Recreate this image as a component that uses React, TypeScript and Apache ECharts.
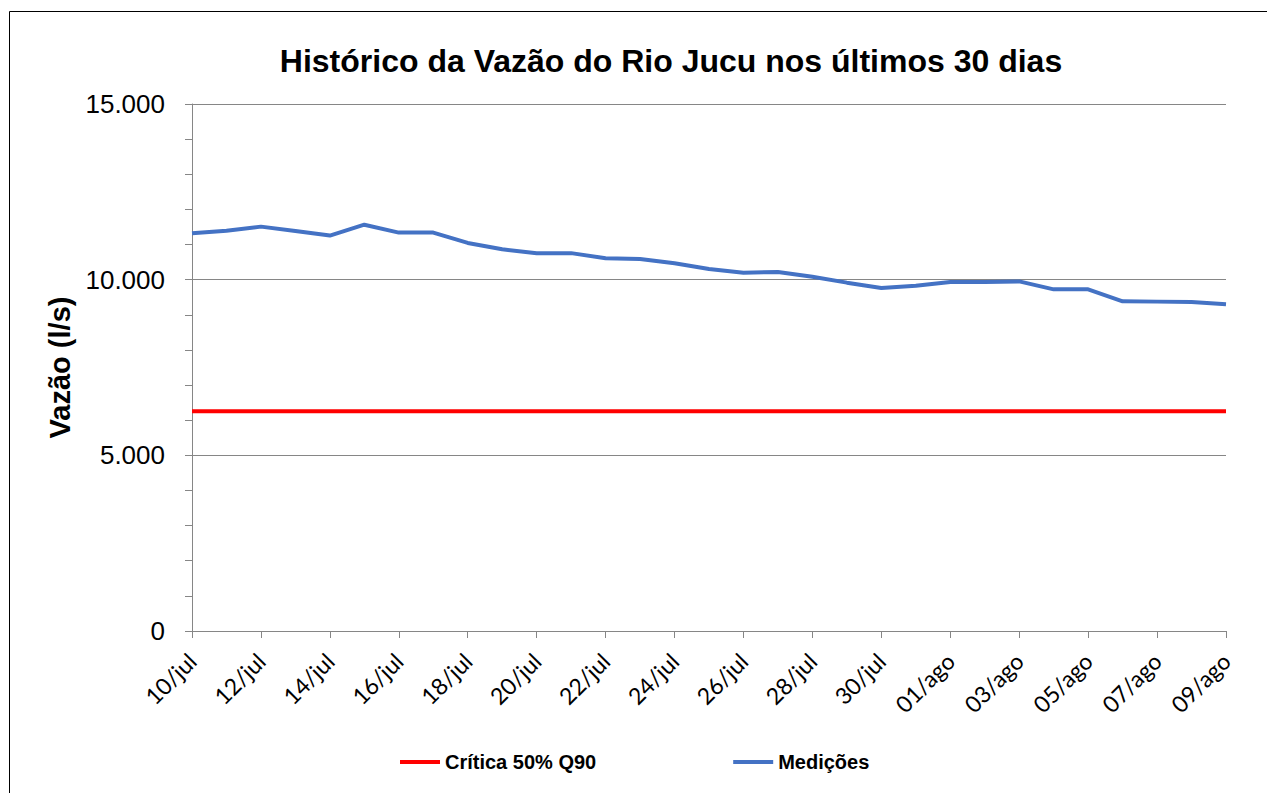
import React, { useEffect, useRef } from "react";
import * as echarts from "echarts";

const categories = [
  "10/jul", "11/jul", "12/jul", "13/jul", "14/jul", "15/jul", "16/jul", "17/jul",
  "18/jul", "19/jul", "20/jul", "21/jul", "22/jul", "23/jul", "24/jul", "25/jul",
  "26/jul", "27/jul", "28/jul", "29/jul", "30/jul", "31/jul", "01/ago", "02/ago",
  "03/ago", "04/ago", "05/ago", "06/ago", "07/ago", "08/ago", "09/ago",
];

const medicoes = [
  11320, 11395, 11510, 11385, 11255, 11565, 11340, 11340,
  11045, 10865, 10755, 10755, 10610, 10590, 10465, 10305,
  10200, 10220, 10085, 9915, 9765, 9830, 9935, 9935,
  9950, 9725, 9725, 9385, 9375, 9365, 9300,
];

const criticaValue = 6255;
const critica = categories.map(() => criticaValue);

const yTicks = [0, 5000, 10000, 15000];

const title = "Histórico da Vazão do Rio Jucu nos últimos 30 dias";

export default function App() {
  const ref = useRef<HTMLDivElement>(null);

  useEffect(() => {
    document.body.style.margin = "0";
    const chart = echarts.init(ref.current!, null, { renderer: "svg" });
    const axisGray = "#868686";
    chart.setOption({
      animation: false,
      backgroundColor: "#ffffff",
      title: {
        text: title,
        left: 666,
        top: 40,
        textAlign: "center",
        textStyle: {
          fontFamily: "Liberation Sans, Arial, sans-serif",
          fontWeight: "bold",
          fontSize: 32,
          color: "#000000",
        },
      },
      graphic: [
        {
          type: "rect",
          shape: { x: 9.5, y: 11.5, width: 1300, height: 800 },
          style: { fill: "none", stroke: "#000000", lineWidth: 1 },
          silent: true,
          z: -1,
        },
      ],
      legend: {
        left: 395,
        top: 747,
        itemWidth: 40,
        itemHeight: 4,
        itemGap: 137,
        icon: "rect",
        data: ["Crítica 50% Q90", "Medições"],
        textStyle: {
          fontFamily: "Liberation Sans, Arial, sans-serif",
          fontWeight: "bold",
          fontSize: 20,
          color: "#000000",
        },
      },
      grid: { left: 192, right: 41, top: 104, bottom: 162 },
      xAxis: {
        type: "category",
        data: categories,
        boundaryGap: false,
        axisLine: { lineStyle: { color: axisGray, width: 1 } },
        axisTick: { interval: 1, length: 7, lineStyle: { color: axisGray } },
        axisLabel: {
          interval: 1,
          rotate: 45,
          margin: 26,
          fontFamily: "Lato, Open Sans, sans-serif",
          fontSize: 23,
          color: "#000000",
        },
        splitLine: { show: false },
      },
      yAxis: {
        type: "value",
        min: yTicks[0],
        max: yTicks[yTicks.length - 1],
        interval: 5000,
        name: "Vazão (l/s)",
        nameLocation: "middle",
        nameGap: 114,
        nameTextStyle: {
          fontFamily: "Liberation Sans, Arial, sans-serif",
          fontWeight: "bold",
          fontSize: 29,
          color: "#000000",
        },
        axisLine: { show: true, lineStyle: { color: axisGray, width: 1 } },
        axisTick: { show: true, length: 7, lineStyle: { color: axisGray } },
        minorTick: { show: true, splitNumber: 5, length: 7, lineStyle: { color: axisGray } },
        axisLabel: {
          margin: 27,
          fontFamily: "Liberation Sans, Arial, sans-serif",
          fontSize: 26,
          color: "#000000",
          formatter: (v: number) => v.toLocaleString("de-DE"),
        },
        splitLine: { show: true, lineStyle: { color: axisGray, width: 1 } },
      },
      series: [
        {
          name: "Crítica 50% Q90",
          type: "line",
          data: critica,
          showSymbol: false,
          symbol: "none",
          lineStyle: { color: "#FF0000", width: 4 },
          itemStyle: { color: "#FF0000" },
        },
        {
          name: "Medições",
          type: "line",
          data: medicoes,
          showSymbol: false,
          symbol: "none",
          lineStyle: { color: "#4472C4", width: 4 },
          itemStyle: { color: "#4472C4" },
        },
      ],
    });
    return () => chart.dispose();
  }, []);

  return <div ref={ref} style={{ width: 1267, height: 793 }} />;
}
